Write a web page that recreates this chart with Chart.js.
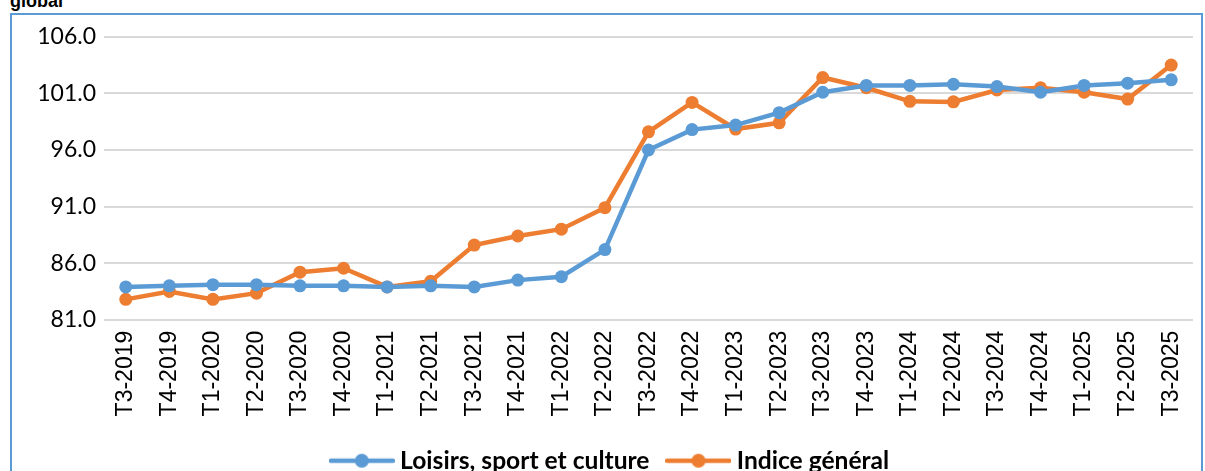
<!DOCTYPE html>
<html>
<head>
<meta charset="utf-8">
<script src="https://cdn.jsdelivr.net/npm/chart.js@4"></script>
<style>
  body { margin: 0; background: #fff; overflow: hidden; width: 1205px; height: 471px; position: relative; }
  #titre { position: absolute; left: 10px; top: -9px; font: bold 18px "Liberation Sans", Arial, sans-serif; color: #000; }
  #cadre { position: absolute; left: 10px; top: 13px; width: 1189px; height: 500px; border: 2px solid #5B9BD5; }
  #zone { position: absolute; left: 0; top: 0; width: 1189px; height: 468px; }
</style>
</head>
<body>
<div id="titre">global</div>
<div id="cadre"><div id="zone"><canvas id="graphique"></canvas></div></div>
<script>
// Trimestres
var trimestres = ['T3-2019', 'T4-2019', 'T1-2020', 'T2-2020', 'T3-2020', 'T4-2020', 'T1-2021', 'T2-2021',
    'T3-2021', 'T4-2021', 'T1-2022', 'T2-2022', 'T3-2022', 'T4-2022', 'T1-2023', 'T2-2023', 'T3-2023',
    'T4-2023', 'T1-2024', 'T2-2024', 'T3-2024', 'T4-2024', 'T1-2025', 'T2-2025', 'T3-2025'];

// Loisirs, sport et culture
var loisirs = [83.9, 84.0, 84.1, 84.1, 84.0, 84.0, 83.9, 84.0, 83.9, 84.5, 84.8, 87.2, 96.0,
    97.8, 98.2, 99.3, 101.1, 101.7, 101.7, 101.8, 101.6, 101.1, 101.7, 101.9, 102.2];

// Indice général
var indice = [82.8, 83.5, 82.8, 83.35, 85.2, 85.55, 83.9, 84.4, 87.6, 88.4, 89.0, 90.9, 97.6,
    100.2, 97.85, 98.4, 102.4, 101.5, 100.3, 100.25, 101.3, 101.5, 101.1, 100.5, 103.5];

var graduations = [81, 86, 91, 96, 101, 106];

// Symbole de légende : trait + rond
function symbole(couleur) {
    var c = document.createElement('canvas');
    c.width = 66; c.height = 18;
    var g = c.getContext('2d');
    g.strokeStyle = couleur;
    g.lineWidth = 4.5;
    g.lineCap = 'round';
    g.beginPath(); g.moveTo(2, 9); g.lineTo(64, 9); g.stroke();
    g.fillStyle = couleur;
    g.beginPath(); g.arc(33, 9, 7, 0, Math.PI * 2); g.fill();
    return c;
}

var bleu = '#5B9BD5';
var orange = '#ED7D31';

new Chart(document.getElementById('graphique'), {
    type: 'line',
    data: {
        labels: trimestres,
        datasets: [{
            label: 'Loisirs, sport et culture',
            data: loisirs,
            borderColor: bleu,
            backgroundColor: bleu,
            borderWidth: 4.5,
            pointRadius: 6.5,
            pointBorderWidth: 0,
            pointStyle: 'circle',
            tension: 0
        }, {
            label: 'Indice général',
            data: indice,
            borderColor: orange,
            backgroundColor: orange,
            borderWidth: 4.5,
            pointRadius: 6.5,
            pointBorderWidth: 0,
            pointStyle: 'circle',
            tension: 0
        }]
    },
    options: {
        responsive: true,
        maintainAspectRatio: false,
        animation: false,
        layout: { padding: { top: 8, right: 8, left: 20, bottom: 0 } },
        scales: {
            y: {
                min: 81,
                max: 106,
                afterBuildTicks: function (axis) {
                    axis.ticks = graduations.map(function (v) { return { value: v }; });
                },
                afterFit: function (axis) { axis.width = 72; },
                ticks: {
                    color: '#000',
                    padding: 8,
                    font: { family: 'Lato', size: 23 },
                    callback: function (v) { return Number(v).toFixed(1); }
                },
                grid: { color: '#D9D9D9', lineWidth: 2, drawTicks: false },
                border: { display: false }
            },
            x: {
                offset: true,
                afterFit: function (axis) {
                    axis.height -= 2;
                    axis.paddingRight = 0;
                    axis.paddingLeft = 0;
                },
                ticks: {
                    color: '#000',
                    padding: 11,
                    minRotation: 90,
                    maxRotation: 90,
                    autoSkip: false,
                    font: { family: 'Liberation Sans', size: 23 }
                },
                grid: { display: false, drawTicks: false },
                border: { display: false }
            }
        },
        plugins: {
            tooltip: { enabled: false },
            legend: {
                position: 'bottom',
                labels: {
                    color: '#000',
                    usePointStyle: true,
                    pointStyleWidth: 52,
                    padding: 23,
                    font: { family: 'Lato', size: 24.6, weight: 'bold' },
                    generateLabels: function (chart) {
                        return chart.data.datasets.map(function (ds, i) {
                            return {
                                text: ds.label,
                                fontColor: '#000',
                                pointStyle: symbole(ds.borderColor),
                                datasetIndex: i,
                                lineWidth: 0,
                                strokeStyle: ds.borderColor,
                                fillStyle: ds.borderColor
                            };
                        });
                    }
                }
            }
        }
    }
});
</script>
</body>
</html>
